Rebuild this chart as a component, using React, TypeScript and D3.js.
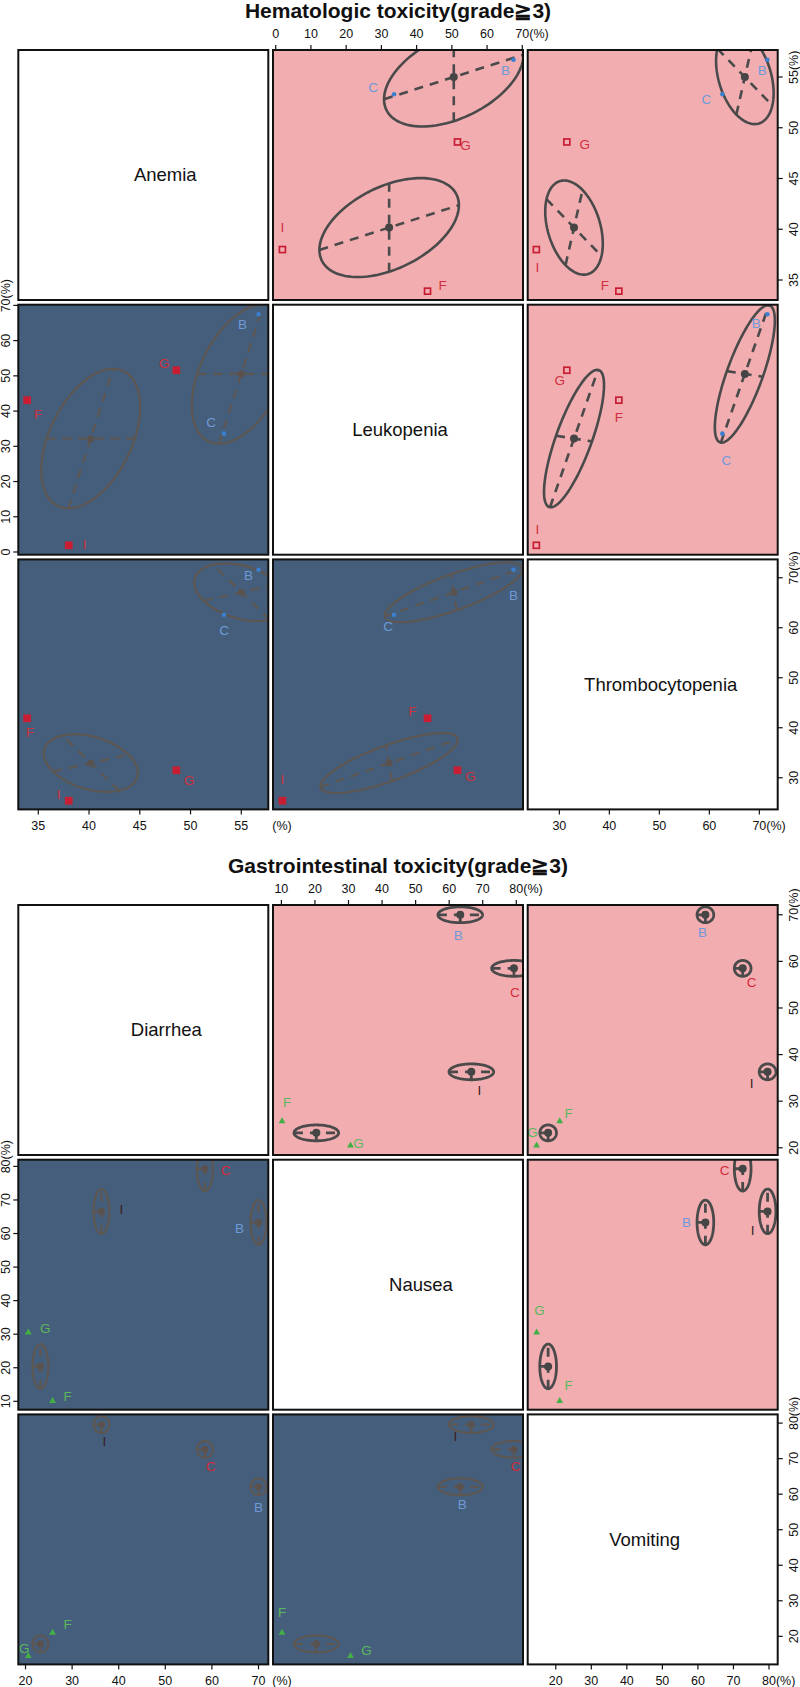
import React from "react";
import * as d3 from "d3";

// ---------- Hematologic toxicity ----------
const hemaTitle = "Hematologic toxicity(grade\u22673)";
const hemaVars = ["Anemia", "Leukopenia", "Thrombocytopenia"];
const hemaStudies = ["B", "C", "F", "G", "I"];
const hemaAnemia = [56.7, 53.3, 33.9, 48.6, 38.0];
const hemaLeukopenia = [67.5, 33.6, 43.1, 51.6, 1.9];
const hemaThrombo = [71.6, 62.6, 41.9, 31.5, 25.4];
const hemaGroups = [[0, 1], [2, 3, 4]];
const hemaDomains = [[33.03, 57.66], [-0.77, 70.2], [23.67, 73.67]];
const hemaTicks = [
  [35, 40, 45, 50, 55],
  [0, 10, 20, 30, 40, 50, 60, 70],
  [30, 40, 50, 60, 70],
];
// conjugate semi-axes (first var, second var) of the pooled ellipse for each pair
const hemaEllipse = {
  "0-1": [[2.2, 19.8], [4.35, 0]],
  "0-2": [[-2.8, 5.5], [3.7, 1.7]],
  "1-2": [[19.5, 4.8], [-0.8, 3.6]],
};

// ---------- Gastrointestinal toxicity ----------
const giTitle = "Gastrointestinal toxicity(grade\u22673)";
const giVars = ["Diarrhea", "Nausea", "Vomiting"];
const giStudies = ["B", "C", "F", "G", "I"];
const giDiarrhea = [70.0, 58.5, 25.8, 20.6, 36.3];
const giNausea = [63.3, 79.3, 10.2, 30.6, 66.6];
const giVomiting = [62.1, 72.6, 21.1, 14.6, 79.6];
const giGroups = [[0], [1], [4], [2, 3]];
const giDomains = [[18.45, 72.1], [7.5, 82.0], [12.1, 82.45]];
const giTicks = [
  [20, 30, 40, 50, 60, 70],
  [10, 20, 30, 40, 50, 60, 70, 80],
  [20, 30, 40, 50, 60, 70, 80],
];
const giEllipse = {
  "0-1": [[1.7, 0], [0, 6.65]],
  "0-2": [[1.7, 0], [0, 2.35]],
  "1-2": [[6.65, 0], [0, 2.35]],
};

// marker / label styles per study
const hemaStyle = [
  { mark: "dot", color: "#3b80d0", label: "#6e9ad8" },
  { mark: "dot", color: "#3b80d0", label: "#6e9ad8" },
  { mark: "square", color: "#c81e34", label: "#d0303e" },
  { mark: "square", color: "#c81e34", label: "#d0303e" },
  { mark: "square", color: "#c81e34", label: "#d0303e" },
];
const giStyle = [
  { mark: "none", color: "#3b80d0", label: "#6e9ad8" },
  { mark: "none", color: "#c81e34", label: "#d42a3a" },
  { mark: "tri", color: "#43b047", label: "#5cb85c" },
  { mark: "tri", color: "#43b047", label: "#5cb85c" },
  { mark: "none", color: "#3a1c24", label: "#3a1c24" },
];

// label offsets (px) per panel row-col, in study order
const hemaLabelOff = {
  "01": [[-8, 11], [-21, -7], [15, -6], [8, 3], [0, -22]],
  "02": [[-5, 11], [-16, 5], [-14, -6], [18, 2], [1, 18]],
  "10": [[-16, 10], [-13, -11], [11, 14], [-12, -7], [16, -1]],
  "12": [[-11, 9], [4, 27], [0, 17], [-7, 10], [1, -16]],
  "20": [[-10, 6], [0, 16], [3, 14], [13, 10], [-10, -6]],
  "21": [[0, 26], [-6, 12], [-15, -7], [13, 6], [0, -21]],
};
const giLabelOff = {
  "01": [[-2, 20], [1, 24], [5, -18], [8, -2], [8, 18]],
  "02": [[-3, 17], [9, 14], [9, -7], [-4, -13], [-16, 11]],
  "10": [[-19, 6], [21, 2], [15, -4], [17, -4], [20, -2]],
  "12": [[-19, 0], [-18, 2], [9, -15], [3, -22], [-15, 19]],
  "20": [[0, 21], [6, 17], [15, -8], [-4, -7], [3, 17]],
  "21": [[2, 18], [2, 17], [0, -20], [16, -5], [-16, 12]],
};

const hemaCfg = {
  title: hemaTitle, vars: hemaVars, studies: hemaStudies,
  values: [hemaAnemia, hemaLeukopenia, hemaThrombo],
  groups: hemaGroups, domains: hemaDomains, ticks: hemaTicks,
  ellipse: hemaEllipse, style: hemaStyle, labelOff: hemaLabelOff,
  diagOff: [22, 2, 8], lw: 2.6, key: "h",
};
const giCfg = {
  title: giTitle, vars: giVars, studies: giStudies,
  values: [giDiarrhea, giNausea, giVomiting],
  groups: giGroups, domains: giDomains, ticks: giTicks,
  ellipse: giEllipse, style: giStyle, labelOff: giLabelOff,
  diagOff: [23, 23, -8], lw: 2.8, key: "g",
};

const FONT = "'Liberation Sans', Arial, Helvetica, sans-serif";
const PINK = "#f2adb1";
const NAVY = "#455e7b";

function axesFor(ell, xi, yi) {
  const key = Math.min(xi, yi) + "-" + Math.max(xi, yi);
  const [u, v] = ell[key];
  return xi < yi ? [u, v] : [[u[1], u[0]], [v[1], v[0]]];
}

function PairsPlot({ cfg, top }) {
  const S = 250, P = 254.7, X0 = 18.3, Y0 = top + 50;
  const colX = (i) => X0 + i * P;
  const rowY = (i) => Y0 + i * P;
  const xs = cfg.domains.map((d, i) => d3.scaleLinear().domain(d).range([colX(i), colX(i) + S]));
  const ys = cfg.domains.map((d, i) => d3.scaleLinear().domain(d).range([rowY(i) + S, rowY(i)]));
  const line = d3.line();
  const fs = 12.5;
  const numW = (v) => String(v).length * 0.556 * fs;

  const panels = [];
  for (let r = 0; r < 3; r++) {
    for (let c = 0; c < 3; c++) {
      const px = colX(c), py = rowY(r);
      const id = `clip-${cfg.key}-${r}${c}`;
      if (r === c) {
        panels.push(
          <g key={id}>
            <rect x={px} y={py} width={S} height={S} fill="#fff" stroke="#111" strokeWidth={2} />
            <text x={px + S / 2 + cfg.diagOff[r]} y={py + S / 2} dy="0.35em" textAnchor="middle"
              fontSize={18.5} fontFamily={FONT} fill="#111">{cfg.vars[r]}</text>
          </g>
        );
        continue;
      }
      const upper = c > r;
      const sx = xs[c], sy = ys[r];
      const xv = cfg.values[c], yv = cfg.values[r];
      const [u, v] = axesFor(cfg.ellipse, c, r);
      const eStroke = upper ? "#4a4a4a" : "#5e5650";
      const lw = upper ? cfg.lw : 2.1;
      const offs = cfg.labelOff[`${r}${c}`];

      const ells = cfg.groups.map((g, gi) => {
        const cx = d3.mean(g, (k) => xv[k]);
        const cy = d3.mean(g, (k) => yv[k]);
        const pts = d3.range(0, 121).map((k) => {
          const t = (2 * Math.PI * k) / 120;
          return [sx(cx + Math.cos(t) * u[0] + Math.sin(t) * v[0]), sy(cy + Math.cos(t) * u[1] + Math.sin(t) * v[1])];
        });
        const seg = (w) => line([[sx(cx - w[0]), sy(cy - w[1])], [sx(cx + w[0]), sy(cy + w[1])]]);
        return (
          <g key={gi}>
            <path d={line(pts)} fill="none" stroke={eStroke} strokeWidth={lw} />
            <path d={seg(u)} fill="none" stroke={eStroke} strokeWidth={lw} strokeDasharray="9 7" />
            <path d={seg(v)} fill="none" stroke={eStroke} strokeWidth={lw} strokeDasharray="9 7" />
            <circle cx={sx(cx)} cy={sy(cy)} r={upper ? 4 : 3.6} fill={upper ? "#454545" : "#5a524e"} />
          </g>
        );
      });

      const marks = cfg.studies.map((s, k) => {
        const st = cfg.style[k];
        const mx = sx(xv[k]), my = sy(yv[k]);
        let m = null;
        if (st.mark === "dot") m = <circle cx={mx} cy={my} r={2.3} fill={st.color} />;
        else if (st.mark === "square")
          m = <rect x={mx - 3} y={my - 3} width={6} height={6} fill={upper ? "none" : st.color} stroke={st.color} strokeWidth={1.7} />;
        else if (st.mark === "tri")
          m = <path d={`M${mx},${my - 3.6}L${mx + 3.4},${my + 2.4}L${mx - 3.4},${my + 2.4}Z`} fill={st.color} />;
        return (
          <g key={s}>
            {m}
            <text x={mx + offs[k][0]} y={my + offs[k][1]} dy="0.35em" textAnchor="middle"
              fontSize={13.5} fontFamily={FONT} fill={st.label}>{s}</text>
          </g>
        );
      });

      panels.push(
        <g key={id}>
          <defs>
            <clipPath id={id}><rect x={px} y={py} width={S} height={S} /></clipPath>
          </defs>
          <rect x={px} y={py} width={S} height={S} fill={upper ? PINK : NAVY} />
          <g clipPath={`url(#${id})`}>
            {ells}
            {marks}
          </g>
          <rect x={px} y={py} width={S} height={S} fill="none" stroke="#111" strokeWidth={2} />
        </g>
      );
    }
  }

  // axes
  const axes = [];
  const txt = { fontSize: fs, fontFamily: FONT, fill: "#111" };
  const lastOf = (a) => a[a.length - 1];
  // top axis on column 1
  {
    const ticks = cfg.ticks[1], y = rowY(0);
    ticks.forEach((t) => {
      const x = xs[1](t);
      axes.push(<line key={`t${t}`} x1={x} x2={x} y1={y - 5} y2={y} stroke="#111" strokeWidth={1.2} />);
      axes.push(<text key={`tl${t}`} x={x} y={y - 12} textAnchor="middle" {...txt}>{t}</text>);
    });
    const lt = lastOf(ticks);
    axes.push(<text key="tsuf" x={xs[1](lt) + numW(lt) / 2} y={y - 12} textAnchor="start" {...txt}>(%)</text>);
  }
  // bottom axes on columns 0 and 2
  [0, 2].forEach((c) => {
    const ticks = cfg.ticks[c], y = rowY(2) + S;
    ticks.forEach((t) => {
      const x = xs[c](t);
      axes.push(<line key={`b${c}${t}`} x1={x} x2={x} y1={y} y2={y + 5} stroke="#111" strokeWidth={1.2} />);
      axes.push(<text key={`bl${c}${t}`} x={x} y={y + 21} textAnchor="middle" {...txt}>{t}</text>);
    });
    const lt = lastOf(ticks);
    const sxp = c === 0 ? colX(0) + S + 4 : xs[c](lt) + numW(lt) / 2;
    axes.push(<text key={`bsuf${c}`} x={sxp} y={y + 21} textAnchor="start" {...txt}>(%)</text>);
  });
  // left axis on row 1
  {
    const ticks = cfg.ticks[1], x = colX(0);
    ticks.forEach((t) => {
      const y = ys[1](t);
      axes.push(<line key={`l${t}`} x1={x - 5} x2={x} y1={y} y2={y} stroke="#111" strokeWidth={1.2} />);
      axes.push(
        <g key={`ll${t}`} transform={`translate(${x - 8.5},${y}) rotate(-90)`}>
          <text x={0} y={0} textAnchor="middle" {...txt}>{t}</text>
          {t === lastOf(ticks) && <text x={numW(t) / 2} y={0} textAnchor="start" {...txt}>(%)</text>}
        </g>
      );
    });
  }
  // right axes on rows 0 and 2
  [0, 2].forEach((r) => {
    const ticks = cfg.ticks[r], x = colX(2) + S;
    ticks.forEach((t) => {
      const y = ys[r](t);
      axes.push(<line key={`r${r}${t}`} x1={x} x2={x + 5} y1={y} y2={y} stroke="#111" strokeWidth={1.2} />);
      axes.push(
        <g key={`rl${r}${t}`} transform={`translate(${x + 20},${y}) rotate(-90)`}>
          <text x={0} y={0} textAnchor="middle" {...txt}>{t}</text>
          {t === lastOf(ticks) && <text x={numW(t) / 2} y={0} textAnchor="start" {...txt}>(%)</text>}
        </g>
      );
    });
  });

  return (
    <g>
      <text x={398} y={top + 18} textAnchor="middle" fontSize={21} fontWeight="bold" fontFamily={FONT} fill="#111">
        {cfg.title}
      </text>
      {panels}
      {axes}
    </g>
  );
}

export default function App() {
  return (
    <svg width={800} height={1687} style={{ position: "absolute", left: 0, top: 0, background: "#fff" }}>
      <rect width={800} height={1687} fill="#fff" />
      <PairsPlot cfg={hemaCfg} top={0} />
      <PairsPlot cfg={giCfg} top={855} />
    </svg>
  );
}
